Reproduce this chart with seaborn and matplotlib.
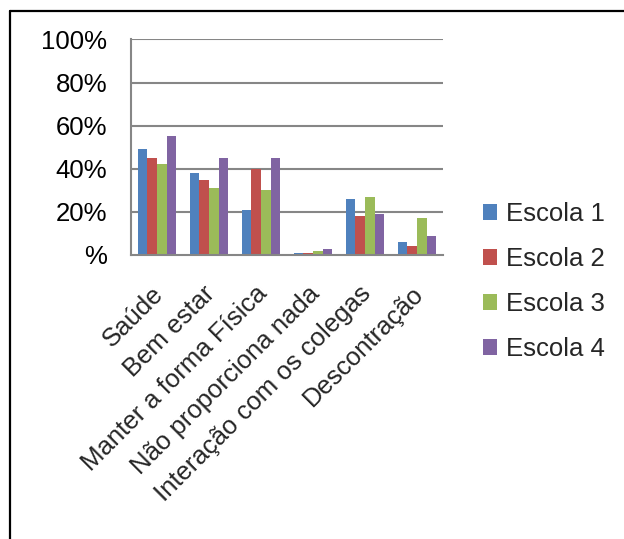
import matplotlib
matplotlib.use("Agg")
import matplotlib.pyplot as plt
import matplotlib.transforms as mtransforms
import seaborn as sns
import pandas as pd
import numpy as np
from matplotlib.lines import Line2D
from matplotlib.patches import Patch

categories = ["Saúde", "Bem estar", "Manter a forma Física", "Não proporciona nada",
              "Interação com os colegas", "Descontração"]
escola1 = [49, 38, 21, 1, 26, 6]
escola2 = [45, 35, 40, 1, 18, 4]
escola3 = [42, 31, 30, 2, 27, 17]
escola4 = [55, 45, 45, 3, 19, 9]
series_names = ["Escola 1", "Escola 2", "Escola 3", "Escola 4"]
colors = ["#4F81BD", "#C0504D", "#9BBB59", "#8064A2"]
ytick_vals = [0, 20, 40, 60, 80, 100]
ytick_labels = ["%", "20%", "40%", "60%", "80%", "100%"]

rows = []
for name, vals in zip(series_names, [escola1, escola2, escola3, escola4]):
    for c, v in zip(categories, vals):
        rows.append({"cat": c, "serie": name, "val": v})
df = pd.DataFrame(rows)

sns.set_style("white")
plt.rcParams["font.family"] = ["Liberation Sans", "DejaVu Sans"]

FS = 18.5
W, H = 624, 539
fig = plt.figure(figsize=(W / 100, H / 100), dpi=100)
ax = fig.add_axes([131 / W, 1 - 255 / H, (443 - 131) / W, (255 - 39.5) / H])

sns.barplot(data=df, x="cat", y="val", hue="serie", order=categories,
            hue_order=series_names, palette=colors, width=0.74, ax=ax,
            saturation=1, legend=False, edgecolor="none", linewidth=0, gap=0)

ax.set_ylim(0, 100)
ax.set_xlim(-0.5, len(categories) - 0.5)
ax.set_yticks(ytick_vals)
ax.set_yticklabels(ytick_labels, fontsize=FS)
grid_c = "#868686"
for y in ytick_vals[1:]:
    ax.axhline(y, color=grid_c, lw=1.5, zorder=0)
ax.set_axisbelow(True)
for s in ["top", "right"]:
    ax.spines[s].set_visible(False)
for s in ["left", "bottom"]:
    ax.spines[s].set_color(grid_c)
    ax.spines[s].set_linewidth(1.5)
ax.tick_params(axis="y", length=6, width=1.5, color=grid_c, pad=11, labelcolor="black")
ax.set_xticks(np.arange(len(categories)))
ax.set_xticklabels(categories, rotation=45, ha="right", va="top",
                   rotation_mode="anchor", fontsize=FS)
ax.tick_params(axis="x", which="major", length=0, pad=19)
offset = mtransforms.ScaledTranslation(-6 / 100, 0, fig.dpi_scale_trans)
for lbl in ax.get_xticklabels():
    lbl.set_transform(lbl.get_transform() + offset)
ax.set_xticks(np.arange(-0.5, len(categories)), minor=True)
ax.tick_params(axis="x", which="minor", length=6, width=1.5, color=grid_c, direction="out")
ax.set_xlabel("")
ax.set_ylabel("")

handles = [Patch(facecolor=c, edgecolor="none") for c in colors]
fig.legend(handles, series_names, loc="upper left", bbox_to_anchor=(483 / W, 1 - 202 / H),
           frameon=False, fontsize=FS, handlelength=0.55, handleheight=0.55,
           handletextpad=0.35, labelspacing=0.82, borderaxespad=0, borderpad=0)

fig.add_artist(Line2D([9.5 / W, 9.5 / W], [1 - 11 / H, -0.01], transform=fig.transFigure,
                      color="black", lw=1.6))
fig.add_artist(Line2D([9.5 / W, 1.01], [1 - 11 / H, 1 - 11 / H], transform=fig.transFigure,
                      color="black", lw=1.6))

fig.savefig("out.png", dpi=100)
